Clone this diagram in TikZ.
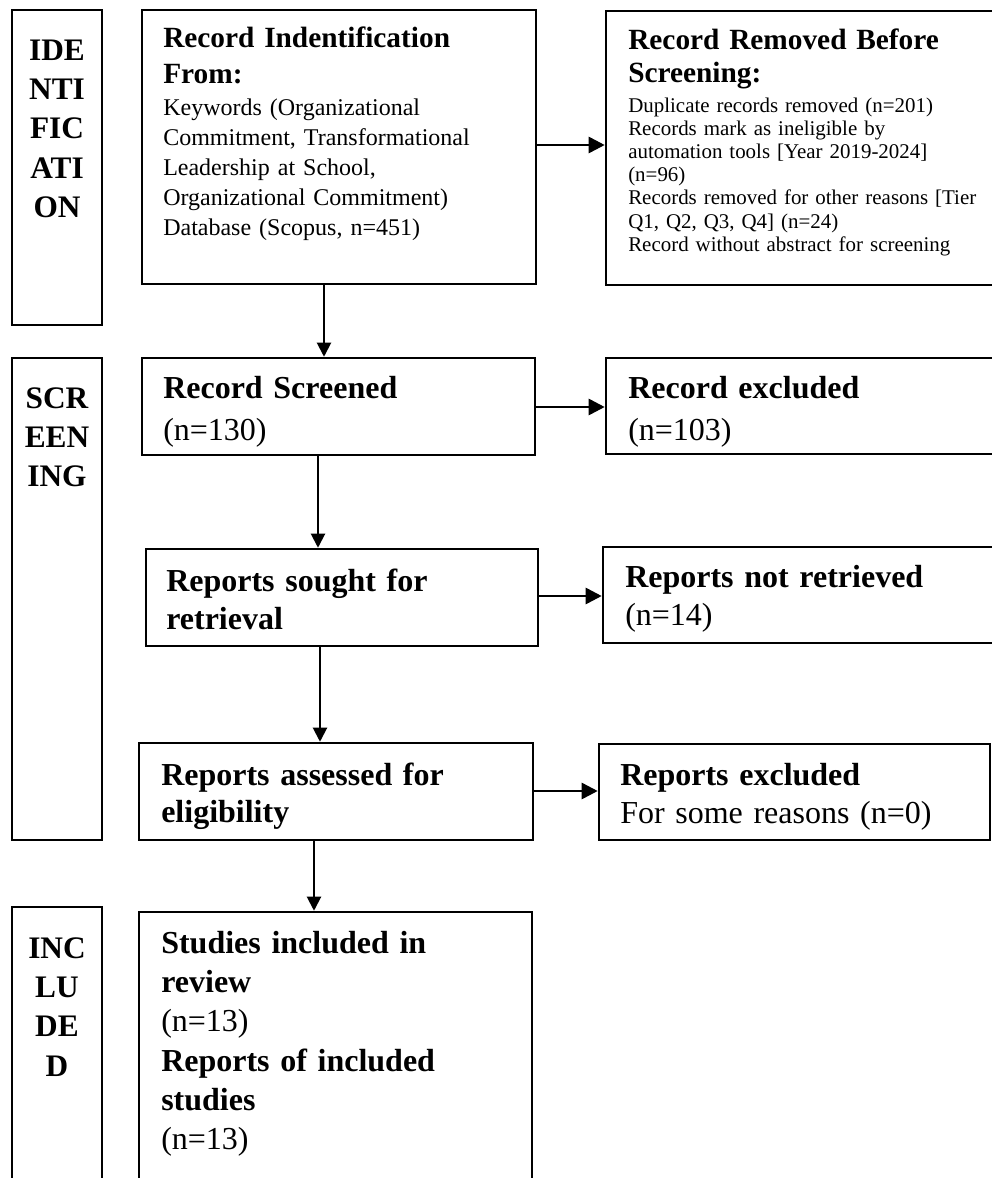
\documentclass[tikz,border=0pt]{standalone}
\usepackage{fontspec}
\setmainfont{Liberation Serif}
\usetikzlibrary{arrows.meta,fit}
\begin{document}
\begin{tikzpicture}[x=0.75pt,y=-0.75pt,
  box/.style={draw=black, line width=1.9pt, inner sep=0pt, rectangle},
  txt/.style={inner sep=0pt, anchor=base west, text width=360pt, align=left},
  lab/.style={inner sep=0pt, anchor=base, text width=66pt, align=center,
    font=\fontsize{23.5pt}{29.5pt}\selectfont\bfseries},
  ttl/.style={font=\fontsize{22pt}{27pt}\selectfont\bfseries},
  arr/.style={line width=1.5pt, -{Triangle[length=10.5pt,width=10.5pt]}},
  harr/.style={line width=2pt, -{Triangle[length=12pt,width=12pt]}}
]
\useasboundingbox (0,0) rectangle (992,1178);
\clip (0,0) rectangle (992,1178);
\fill[white] (0,0) rectangle (992,1178);

% phase label boxes
\node[box, fit={(12,10) (102,325)}] (idlab) {};
\node[box, fit={(12,358) (102,840)}] (scrlab) {};
\node[box, fit={(12,907) (102,1200)}] (inclab) {};

% main boxes
\node[box, fit={(142,10) (536,284)}] (idbox) {};
\node[box, fit={(606,11) (1010,285)}] (rem) {};
\node[box, fit={(142,358) (535,455)}] (scr) {};
\node[box, fit={(606,358) (1010,454)}] (exc) {};
\node[box, fit={(146,549) (538,646)}] (sou) {};
\node[box, fit={(603,547) (1010,643)}] (nret) {};
\node[box, fit={(139,743) (533,840)}] (ass) {};
\node[box, fit={(599,744) (990,840)}] (rexc) {};
\node[box, fit={(139,912) (532,1200)}] (stu) {};

% phase labels
\node[lab] (idtext) at (57,60) {IDE\\NTI\\FIC\\ATI\\ON};
\node[lab] (scrtext) at (57,408) {SCR\\EEN\\ING};
\node[lab] (inctext) at (57,958) {INC\\LU\\DE\\D};

% identification
\node[txt, ttl] (idt) at (163,47) {Record Indentification\\From:};
\node[txt, font=\fontsize{18pt}{22.5pt}\selectfont] (idb) at (163,115)
  {Keywords (Organizational\\Commitment, Transformational\\Leadership at School,\\Organizational Commitment)\\Database (Scopus, n=451)};
\node[txt, font=\fontsize{22pt}{24.75pt}\selectfont\bfseries] (remt) at (628,49) {Record Removed Before\\Screening:};
\node[txt, font=\fontsize{15.7pt}{17.4pt}\selectfont] (remb) at (628,112)
  {Duplicate records removed (n=201)\\Records mark as ineligible by\\automation tools [Year 2019-2024]\\(n=96)\\Records removed for other reasons [Tier\\Q1, Q2, Q3, Q4] (n=24)\\Record without abstract for screening};

% screening
\node[txt, font=\fontsize{24pt}{31.5pt}\selectfont] (scrt) at (163,398) {\textbf{Record Screened}\\(n=130)};
\node[txt, font=\fontsize{24pt}{31.5pt}\selectfont] (exct) at (628,398) {\textbf{Record excluded}\\(n=103)};
\node[txt, font=\fontsize{24pt}{28.5pt}\selectfont\bfseries] (sout) at (166,591) {Reports sought for\\retrieval};
\node[txt, font=\fontsize{24pt}{28.5pt}\selectfont] (nrett) at (625,587) {\textbf{Reports not retrieved}\\(n=14)};
\node[txt, font=\fontsize{24pt}{28pt}\selectfont\bfseries] (asst) at (161,785) {Reports assessed for\\eligibility};
\node[txt, font=\fontsize{24pt}{28.5pt}\selectfont] (rexct) at (620,785) {\textbf{Reports excluded}\\For some reasons (n=0)};

% included
\node[txt, font=\fontsize{24pt}{29.5pt}\selectfont] (stut) at (161,953)
  {\textbf{Studies included in}\\\textbf{review}\\(n=13)\\\textbf{Reports of included}\\\textbf{studies}\\(n=13)};

% arrow guide coordinates
\coordinate (v1) at (324,0);
\coordinate (v2) at (318,0);
\coordinate (v3) at (320,0);
\coordinate (v4) at (314,0);
\coordinate (h1) at (0,145);
\coordinate (h2) at (0,407);
\coordinate (h3) at (0,596);
\coordinate (h4) at (0,791);

% connectors
\draw[arr] (idbox.south -| v1) -- (scr.north -| v1);
\draw[arr] (scr.south -| v2) -- (sou.north -| v2);
\draw[arr] (sou.south -| v3) -- (ass.north -| v3);
\draw[arr] (ass.south -| v4) -- (stu.north -| v4);
\draw[harr] (idbox.east |- h1) -- (rem.west |- h1);
\draw[harr] (scr.east |- h2) -- (exc.west |- h2);
\draw[harr] (sou.east |- h3) -- (nret.west |- h3);
\draw[harr] (ass.east |- h4) -- (rexc.west |- h4);
\end{tikzpicture}
\end{document}
